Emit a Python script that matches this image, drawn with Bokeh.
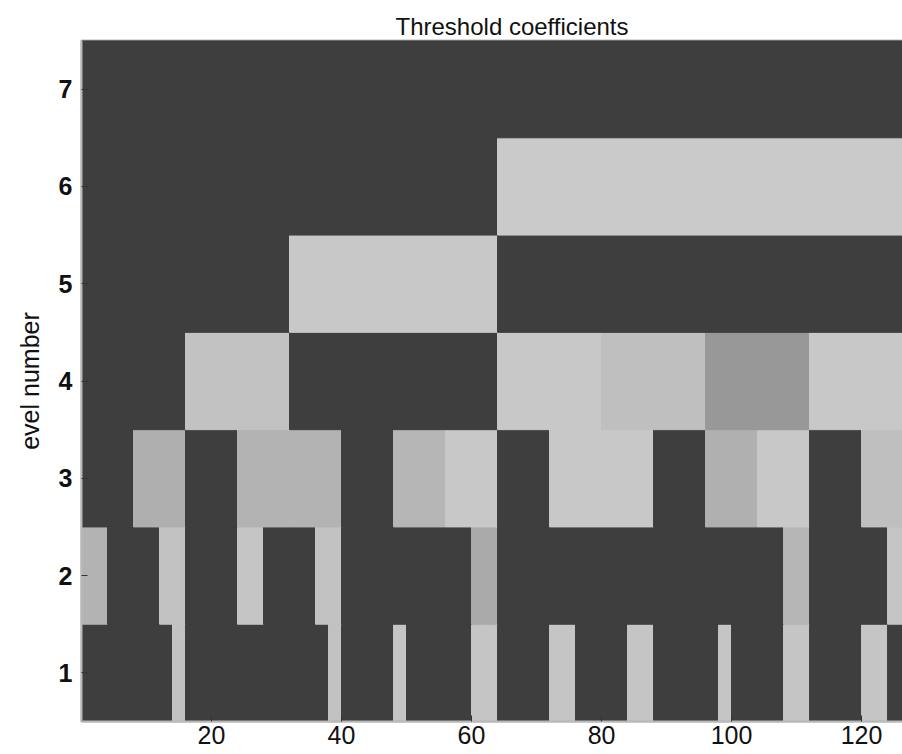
from bokeh.plotting import figure
from bokeh.models import ColumnDataSource, Range1d, LinearColorMapper, FixedTicker
from bokeh.transform import transform
from bokeh.embed import file_html
from bokeh.resources import INLINE

# Normalized threshold-coefficient magnitudes per decomposition level
# (level j has 128 / 2**j coefficients)
level1 = [0, 0, 0, 0, 0, 0, 0, 0.88, 0, 0, 0, 0, 0, 0, 0, 0,
          0, 0, 0, 0.88, 0, 0, 0, 0, 0.9, 0, 0, 0, 0, 0, 0.9, 0.9,
          0, 0, 0, 0, 0.9, 0.9, 0, 0, 0, 0, 0.9, 0.9, 0, 0, 0, 0,
          0, 0.9, 0, 0, 0, 0, 0.9, 0.9, 0, 0, 0, 0, 0.9, 0.9, 0, 0]
level2 = [0.78, 0, 0, 0.88, 0, 0, 0.9, 0, 0, 0.88, 0, 0, 0, 0, 0, 0.72,
          0, 0, 0, 0, 0, 0, 0, 0, 0, 0, 0, 0.8, 0, 0, 0, 0.9]
level3 = [0, 0.75, 0, 0.78, 0.78, 0, 0.8, 0.92,
          0, 0.92, 0.92, 0, 0.76, 0.92, 0, 0.86]
level4 = [0, 0.88, 0, 0, 0.92, 0.86, 0.6, 0.92]
level5 = [0, 0.92, 0, 0]
level6 = [0, 0.93]
level7 = [0]
levels = [level1, level2, level3, level4, level5, level6, level7]
signal_length = 128

title_text = "Threshold coefficients"
y_label = "evel number"
x_ticks = [20, 40, 60, 80, 100, 120]
y_ticks = [1, 2, 3, 4, 5, 6, 7]

left, right, bottom, top, val = [], [], [], [], []
for j, coeffs in enumerate(levels, start=1):
    w = signal_length / len(coeffs)
    for i, c in enumerate(coeffs):
        left.append(i * w)
        right.append((i + 1) * w)
        bottom.append(j - 0.5)
        top.append(j + 0.5)
        val.append(c)

src = ColumnDataSource(dict(left=left, right=right, bottom=bottom, top=top, val=val))

palette = ["#%02x%02x%02x" % (g, g, g) for g in range(62, 213)]
mapper = LinearColorMapper(palette=palette, low=0, high=1)

p = figure(width=902, height=754, output_backend="svg", toolbar_location=None,
           x_range=Range1d(0, 126.3), y_range=Range1d(0.5, 7.5),
           min_border_left=81, min_border_right=0, min_border_top=40,
           min_border_bottom=33, title=title_text)

p.quad(left="left", right="right", bottom="bottom", top="top", source=src,
       fill_color=transform("val", mapper), line_color=transform("val", mapper),
       line_width=1)

p.title.align = "left"
p.title.offset = 314
p.title.text_font = "Liberation Sans"
p.title.text_font_size = "24px"
p.title.text_font_style = "normal"
p.title.text_color = "#111111"
p.title.standoff = 2

p.xgrid.visible = False
p.ygrid.visible = False
p.outline_line_color = "#b8b8b8"
p.outline_line_width = 2
p.background_fill_color = "#3e3e3e"

p.xaxis.ticker = FixedTicker(ticks=x_ticks)
p.yaxis.ticker = FixedTicker(ticks=y_ticks)
for ax in (p.xaxis[0], p.yaxis[0]):
    ax.major_tick_in = 6
    ax.major_tick_out = 0
    ax.minor_tick_line_color = None
    ax.major_tick_line_color = "#333333"
    ax.axis_line_color = "#b8b8b8"
    ax.axis_line_width = 2
    ax.major_label_text_font = "Liberation Sans"
    ax.major_label_text_font_size = "25px"
    ax.major_label_text_color = "#111111"

p.xaxis.major_label_standoff = 4
p.yaxis.major_label_standoff = 9
p.yaxis.major_label_text_font_style = "bold"
p.yaxis.axis_label = y_label
p.yaxis.axis_label_text_font = "Liberation Sans"
p.yaxis.axis_label_text_font_size = "25px"
p.yaxis.axis_label_text_font_style = "normal"
p.yaxis.axis_label_text_color = "#111111"
p.yaxis.axis_label_standoff = 12

open("out.html", "w").write(file_html(p, INLINE))
